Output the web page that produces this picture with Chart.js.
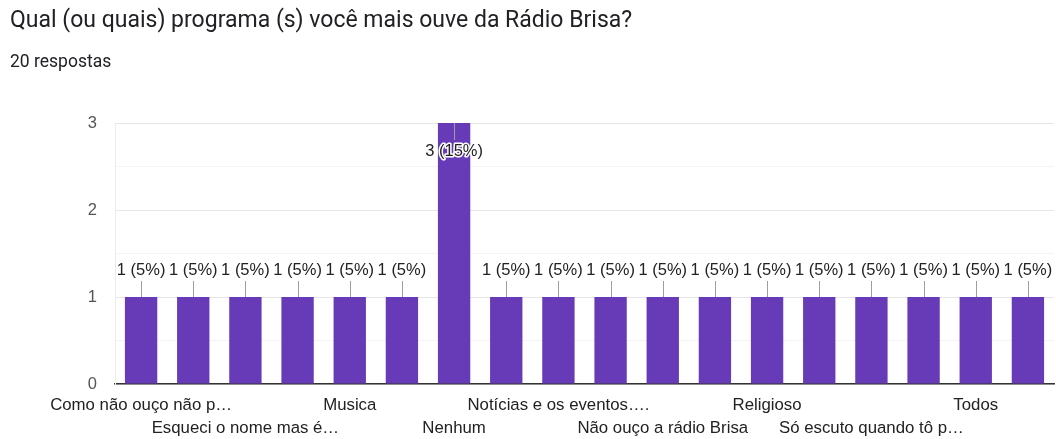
<!DOCTYPE html>
<html><head><meta charset="utf-8">
<script src="https://cdn.jsdelivr.net/npm/chart.js@4/dist/chart.umd.min.js"></script>
<style>
html,body{margin:0;padding:0;background:#fff;width:1056px;height:439px;overflow:hidden}
#title{position:absolute;left:10px;top:6px;font-family:Roboto,"Noto Sans",sans-serif;font-size:23px;line-height:28px;color:#202124;white-space:nowrap}
#sub{position:absolute;left:10px;top:50px;font-family:Roboto,"Noto Sans",sans-serif;font-size:17.5px;line-height:22px;color:#202124}
#wrap{position:absolute;left:0;top:0;width:1056px;height:439px}
</style></head><body>
<div id="wrap"><canvas id="c" width="1056" height="439"></canvas></div>
<div id="title">Qual (ou quais) programa (s) você mais ouve da Rádio Brisa?</div>
<div id="sub">20 respostas</div>
<script>
const categories = [
  "Como não ouço não p…", "Esporte", "Esqueci o nome mas é…", "Forró",
  "Musica", "Música gospel", "Nenhum", "Notícias",
  "Notícias e os eventos….", "Não escuto", "Não ouço a rádio Brisa", "Programa da manhã",
  "Religioso", "Sertanejo", "Só escuto quando tô p…", "Tocando a gente",
  "Todos", "Variados"
];
const counts = [1,1,1,1,1,1,3,1,1,1,1,1,1,1,1,1,1,1];
const totalResponses = 20;
const yTickValues = [0,1,2,3];

const valueLabels = {
  id: 'valueLabels',
  afterDatasetsDraw(chart) {
    const ctx = chart.ctx;
    const meta = chart.getDatasetMeta(0);
    const max = Math.max(...counts);
    ctx.save();
    ctx.font = '16.5px "Liberation Sans", Arial, sans-serif';
    ctx.textAlign = 'center';
    ctx.textBaseline = 'middle';
    meta.data.forEach((bar, i) => {
      const v = counts[i];
      const txt = v + ' (' + Math.round(v / totalResponses * 100) + '%)';
      let ly, l1, l2;
      if (v === max) { ly = bar.y + 28; l1 = bar.y; l2 = bar.y + 17; }
      else { ly = bar.y - 27; l1 = bar.y - 16; l2 = bar.y; }
      ctx.strokeStyle = '#9e9e9e';
      ctx.lineWidth = 1;
      ctx.beginPath();
      ctx.moveTo(Math.round(bar.x) + 0.5, l1);
      ctx.lineTo(Math.round(bar.x) + 0.5, l2);
      ctx.stroke();
      ctx.lineWidth = 3;
      ctx.strokeStyle = '#ffffff';
      ctx.lineJoin = 'round';
      ctx.strokeText(txt, bar.x, ly);
      ctx.fillStyle = '#222222';
      ctx.fillText(txt, bar.x, ly);
    });
    ctx.restore();
  }
};

new Chart(document.getElementById('c'), {
  type: 'bar',
  data: { labels: categories, datasets: [{ data: counts, backgroundColor: '#673ab7', borderWidth: 0,
    categoryPercentage: 1, barPercentage: 0.62 }] },
  options: {
    responsive: false, animation: false, devicePixelRatio: 1,
    layout: { padding: { top: 123, right: 2, left: 0, bottom: 0 } },
    plugins: { legend: { display: false }, tooltip: { enabled: false } },
    scales: {
      x: {
        grid: { display: false, drawTicks: false },
        border: { color: '#333333', width: 1.5 },
        afterFit(s) { s.height = 55; },
        ticks: {
          autoSkip: false, maxRotation: 0, minRotation: 0, padding: 10,
          color: '#222222',
          font: { family: '"Liberation Sans", Arial, sans-serif', size: 16.8, lineHeight: 1.36 },
          callback(val, i) {
            const l = categories[i];
            if (i % 2 === 1) return '';
            return (i % 4 === 0) ? l : ['', l];
          }
        }
      },
      y: {
        min: 0, max: 3,
        afterFit(s) { s.width = 115; },
        border: { color: '#ececec' },
        grid: { drawTicks: false,
          color(ctx) { const v = ctx.tick.value; return Number.isInteger(v) ? '#e6e6e6' : '#f4f4f4'; } },
        ticks: {
          stepSize: 0.5, padding: 18, color: '#555555',
          font: { family: '"Liberation Sans", Arial, sans-serif', size: 16.5 },
          callback(v) { return yTickValues.includes(v) ? String(v) : ''; }
        }
      }
    }
  },
  plugins: [valueLabels]
});
</script>
</body></html>
